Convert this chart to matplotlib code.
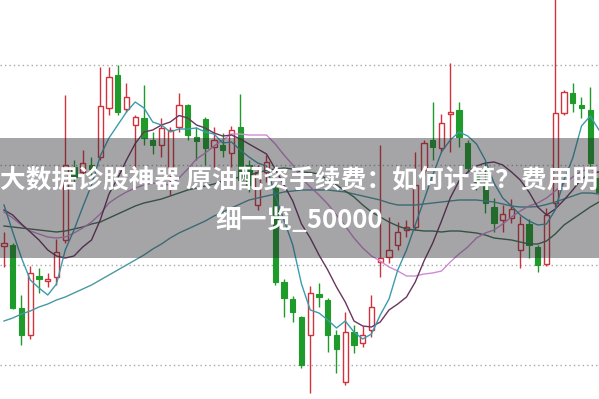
import matplotlib
matplotlib.use("Agg")
import matplotlib.pyplot as plt
import numpy as np

# ---- candle data (one entry per trading day) ----
opens = [25.4,25.5,19.2,16.5,22.4,21.9,22.3,26.0,33.3,32.8,33.5,34.3,39.2,42.5,39.1,37.5,38.2,36.0,35.5,33.2,
         37.3,39.5,36.3,38.1,35.3,35.5,34.7,37.3,33.5,29.5,32.8,31.2,21.8,20.1,18.3,16.5,20.6,20.0,16.5,11.8,
         16.8,15.7,17.0,23.8,24.3,25.5,27.0,27.3,33.0,36.0,35.2,38.6,39.0,35.7,32.5,31.5,29.3,28.0,28.2,25.0,
         27.6,25.3,23.6,29.7,38.7,40.7,39.5,39.0,32.2]
closes = [25.7,19.2,16.5,22.7,22.1,22.1,24.8,33.5,32.3,33.7,33.1,39.4,42.3,38.8,40.3,38.3,36.2,35.5,37.2,37.0,
          39.5,36.5,35.9,35.2,36.0,35.0,37.0,32.0,31.5,32.8,33.8,21.8,20.2,18.8,13.5,20.7,20.3,16.5,15.1,16.8,
          15.5,16.5,19.3,24.2,25.0,26.8,27.3,31.5,35.7,35.3,37.7,38.8,36.3,33.2,31.8,29.7,27.7,28.6,29.1,27.6,
          25.5,23.5,28.5,38.7,40.8,39.7,39.2,33.7,30.8]
highs = [26.8,25.7,20.5,23.4,23.2,22.7,26.1,40.5,34.0,35.0,34.3,43.3,43.3,43.5,41.7,38.5,41.5,36.8,38.2,37.3,
         40.7,39.6,37.3,38.3,37.3,36.7,37.4,40.6,34.0,33.5,34.5,31.8,22.1,20.4,18.4,21.4,21.7,20.2,17.0,18.8,
         17.5,17.4,20.5,35.5,28.3,27.8,28.0,34.8,36.0,39.8,38.6,43.7,39.8,36.0,33.0,33.8,30.2,29.5,30.1,28.4,
         28.1,25.5,29.2,50.5,41.0,41.7,40.3,41.3,32.8]
lows = [23.3,19.1,15.5,16.1,20.7,21.3,21.5,25.7,31.8,31.8,32.5,34.0,38.5,38.5,38.8,33.3,35.5,34.6,34.3,30.5,
        36.8,36.0,34.0,33.5,33.3,34.3,33.3,31.5,30.8,29.0,31.8,21.5,18.3,17.8,13.2,10.7,19.3,14.8,12.7,11.5,
        14.7,15.3,16.3,22.3,23.7,25.0,26.3,27.0,32.5,34.0,34.8,34.8,35.3,32.8,31.0,28.7,26.8,26.8,27.7,23.2,
        24.2,22.8,23.4,29.3,38.5,38.8,38.2,33.3,30.0]

# ---- moving average lines ----
ma5 = [29.5,26.8,24.2,22.0,21.2,20.5,21.6,25.0,27.0,29.3,31.5,34.4,36.2,37.5,38.8,39.8,39.2,37.8,37.5,36.8,
       37.1,37.1,37.2,36.8,36.6,35.7,35.8,35.0,34.3,33.7,33.4,30.4,28.0,25.5,21.6,19.0,18.7,18.0,17.2,17.9,
       16.8,16.1,16.6,18.5,20.1,23.0,25.0,27.5,30.0,32.5,34.8,36.0,36.8,36.4,35.6,34.0,31.7,30.2,29.4,28.5,
       27.9,27.5,27.6,29.0,32.0,34.2,37.4,38.4,37.0]
ma10 = [29.0,28.5,27.6,26.8,26.0,25.0,24.4,24.2,24.4,25.3,26.0,28.0,30.6,32.2,34.0,35.65,36.8,37.0,37.5,37.8,
        38.45,38.2,37.5,37.2,36.7,36.4,36.5,36.1,35.6,35.1,34.6,33.1,31.5,29.9,27.6,26.2,24.5,23.0,21.3,19.8,
        17.9,17.4,17.3,17.8,19.0,19.6,20.3,21.8,23.9,25.7,27.9,30.2,31.9,32.8,33.4,33.7,33.8,33.5,32.8,32.0,
        30.8,29.3,28.5,29.1,30.0,31.0,32.1,32.6,32.8]
ma20 = [28.8,28.2,27.5,26.9,26.6,26.3,26.2,26.3,26.7,27.2,27.8,28.6,29.7,30.3,30.8,31.2,31.5,31.7,31.6,31.5,
        32.2,33.1,34.1,34.7,35.4,36.0,36.6,36.6,36.5,36.5,36.5,35.6,34.5,33.5,32.2,31.3,30.5,29.6,28.5,27.4,
        26.2,25.2,24.4,23.9,23.3,22.9,22.4,22.4,22.6,22.7,22.9,23.8,24.6,25.3,26.2,26.7,27.0,27.6,28.3,28.9,
        29.4,29.7,30.2,30.9,31.7,32.3,32.9,33.1,32.8]
ma30 = [27.4,27.3,27.2,27.1,27.0,26.9,26.8,26.9,27.1,27.3,27.6,27.8,28.2,28.6,29.0,29.4,29.7,29.9,30.1,30.4,
        30.7,31.0,31.2,31.4,31.6,31.9,32.1,32.3,32.5,32.7,33.0,33.1,33.2,33.1,32.8,32.75,32.6,32.0,31.5,30.9,
        30.3,29.5,28.8,28.3,27.8,27.4,27.1,27.0,26.9,26.9,26.8,26.9,26.9,26.8,26.7,26.5,26.2,26.1,26.0,25.8,
        25.6,25.6,25.9,26.6,27.5,28.1,28.7,29.3,29.8]
ma60 = [17.9,18.2,18.6,18.9,19.3,19.6,20.0,20.3,20.7,21.1,21.5,22.0,22.5,23.0,23.5,24.0,24.5,25.1,25.6,26.2,
        26.7,27.1,27.5,27.9,28.4,28.8,29.2,29.6,30.0,30.2,30.4,30.6,30.8,30.9,31.0,31.0,31.0,31.0,30.9,30.8,
        30.6,30.4,30.2,30.0,29.7,29.5,29.5,29.5,29.6,29.7,29.8,29.9,30.0,30.0,30.0,29.9,29.8,29.6,29.4,29.3,
        29.3,29.35,29.55,29.8,30.1,30.4,30.7,30.7,30.6]

grid_levels = [43.5, 33.5, 23.5, 13.5]
banner_low, banner_high = 24.2, 36.2
title_line1 = "大数据诊股神器 原油配资手续费：如何计算？费用明"
title_line2 = "细一览_50000"

RED = "#d2323c"
GREEN = "#1f9b2b"

fig = plt.figure(figsize=(5.99, 3.99), dpi=100)
ax = fig.add_axes([0, 0, 1, 1])
ax.set_xlim(-0.457, 68.0)
ax.set_ylim(10.1, 50)
ax.axis("off")

for g in grid_levels:
    ax.axhline(g, color="#a8a8a8", lw=1.0, ls=(0, (1, 2.2)), zorder=1)

x = np.arange(len(opens))
o = np.array(opens); c = np.array(closes); h = np.array(highs); l = np.array(lows)
up = c >= o
cols = np.where(up, RED, GREEN)
ax.vlines(x, l, h, colors=cols, lw=1.0, zorder=2)
bottom = np.minimum(o, c)
height = np.maximum(np.abs(c - o), 0.15)
ax.bar(x[up], height[up], bottom=bottom[up], width=0.62, facecolor="white",
       edgecolor=RED, linewidth=1.0, zorder=3)
ax.bar(x[~up], height[~up], bottom=bottom[~up], width=0.62, facecolor=GREEN,
       edgecolor=GREEN, linewidth=0.8, zorder=3)

ax.plot(x, ma60, color="#4a98a2", lw=1.0, zorder=4)
ax.plot(x, ma30, color="#3d6e52", lw=1.0, zorder=4)
ax.plot(x, ma20, color="#d08ad6", lw=1.0, zorder=4)
ax.plot(x, ma10, color="#6a3560", lw=1.0, zorder=4)
ax.plot(x, ma5, color="#3b9cb0", lw=1.0, zorder=4)

ax.axhspan(banner_low, banner_high, color="#2a2a30", alpha=0.42, lw=0, zorder=5)

fam = ["Noto Sans CJK SC", "DejaVu Sans"]
fig.text(0.5, 1 - 180 / 399, title_line1, ha="center", va="center", fontsize=18.5,
         fontweight="bold", color="white", family=fam, zorder=6)
fig.text(0.5, 1 - 221 / 399, title_line2, ha="center", va="center", fontsize=18.5,
         fontweight="bold", color="white", family=fam, zorder=6)

fig.savefig("out.png", dpi=100)
